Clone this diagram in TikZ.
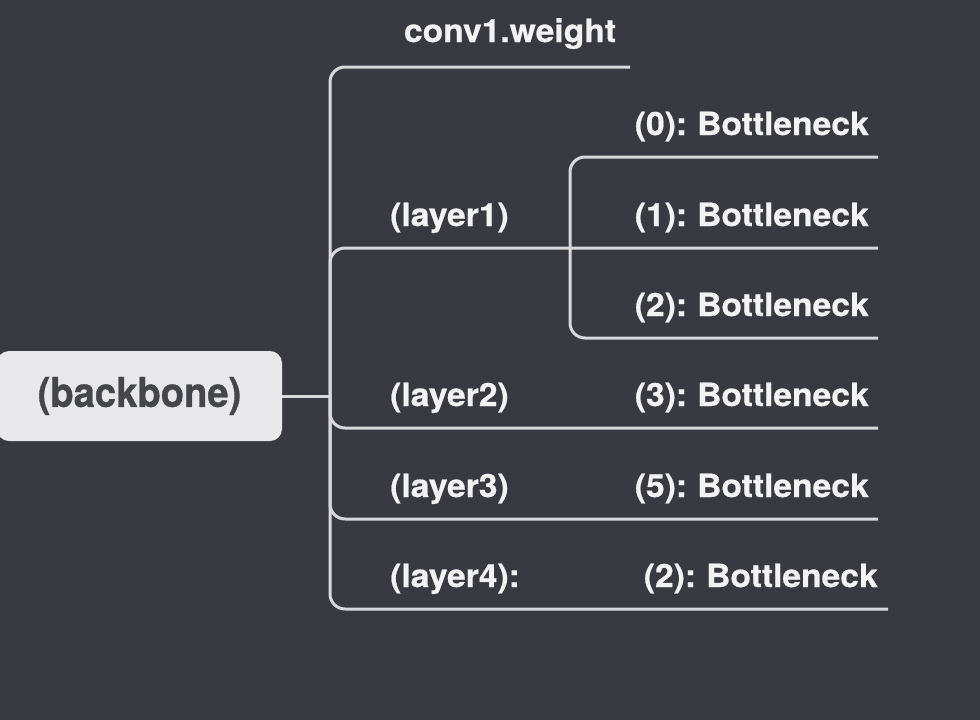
\documentclass[tikz,border=0pt]{standalone}
\usepackage{fontspec}
\setmainfont{TeX Gyre Heros}
\newfontfamily\mapfont[FakeStretch=1.05, WordSpace=0.75, FakeBold=0.6]{TeX Gyre Heros}
\newfontfamily\rootfont[FakeStretch=0.93, FakeBold=0.8]{TeX Gyre Heros}
\definecolor{bgcol}{HTML}{393A41}
\definecolor{linecol}{HTML}{D9D9DC}
\definecolor{boxcol}{HTML}{E8E8EA}
\definecolor{boxtext}{HTML}{45464C}
\definecolor{labelcol}{HTML}{F3F3F4}
\tikzset{
  branch/.style={line width=3pt, linecol, rounded corners=15pt},
  label/.style={inner sep=0pt, text=labelcol, font=\mapfont\bfseries\fontsize{32}{38}\selectfont},
  rootbox/.style={fill=boxcol, rounded corners=12pt, minimum width=285pt, minimum height=90pt,
    inner sep=0pt, text=boxtext, font=\rootfont\bfseries\fontsize{41}{48}\selectfont}
}
\begin{document}
\begin{tikzpicture}[x=1pt, y=-1pt]
    \fill[bgcol] (0,0) rectangle (980,720);
    \useasboundingbox (0,0) rectangle (980,720);

    \node[rootbox] (backbone) at (139.5,396) {(backbone)};
    \coordinate (spine) at (330,396);
    \coordinate (sub) at (570,248);

    % ends of the branches
    \coordinate (e-conv) at (630,67);
    \coordinate (e-b0) at (878,157);
    \coordinate (e-l1) at (878,248);
    \coordinate (e-b2) at (878,338);
    \coordinate (e-l2) at (878,428);
    \coordinate (e-l3) at (878,519);
    \coordinate (e-l4) at (888,609);

    \node[label, anchor=base] (conv) at (510,42) {conv1.weight};
    \node[label, anchor=base west] (layer1) at (390,226) {(layer1)};
    \node[label, anchor=base west] (layer2) at (390,406) {(layer2)};
    \node[label, anchor=base west] (layer3) at (390,497) {(layer3)};
    \node[label, anchor=base west] (layer4) at (390,587) {(layer4):};

    \node[label, anchor=base east] (b0) at (869,135) {(0): Bottleneck};
    \node[label, anchor=base east] (b1) at (869,226) {(1): Bottleneck};
    \node[label, anchor=base east] (b2) at (869,316) {(2): Bottleneck};
    \node[label, anchor=base east] (b3) at (869,406) {(3): Bottleneck};
    \node[label, anchor=base east] (b5) at (869,497) {(5): Bottleneck};
    \node[label, anchor=base east] (b4) at (878,587) {(2): Bottleneck};

    \draw[branch] (backbone.east) -- (spine);
    \draw[branch] (spine) |- (e-conv);
    \draw[branch] (spine) |- (e-l1);
    \draw[branch] (spine) |- (e-l2);
    \draw[branch] (spine) |- (e-l3);
    \draw[branch] (spine) |- (e-l4);

    \draw[branch] (sub) |- (e-b0);
    \draw[branch] (sub) |- (e-b2);
\end{tikzpicture}
\end{document}
